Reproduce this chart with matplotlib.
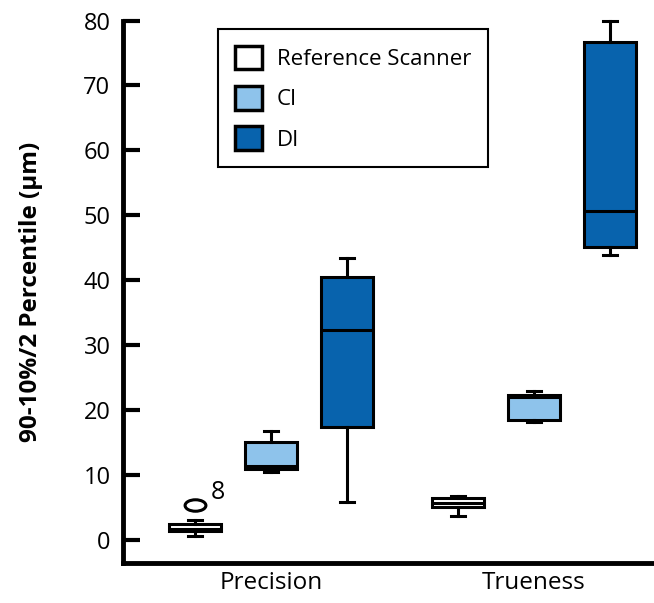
import matplotlib.pyplot as plt
from matplotlib.patches import Patch
from matplotlib.path import Path
from matplotlib.transforms import Affine2D

plt.rcParams['font.family'] = ['Open Sans', 'DejaVu Sans']

groups = ['Precision', 'Trueness']
series = ['Reference Scanner', 'CI', 'DI']
colors = ['white', '#8EC3EB', '#0863AD']

# whislo, q1, median, q3, whishi for each group
ref_stats = [[0.75, 1.5, 1.8, 2.55, 3.1], [3.8, 5.2, 5.7, 6.5, 6.9]]
ci_stats = [[10.5, 11.0, 11.5, 15.15, 16.9], [18.3, 18.6, 22.1, 22.45, 23.0]]
di_stats = [[5.9, 17.5, 32.4, 40.5, 43.4], [43.9, 45.1, 50.7, 76.7, 80.0]]
ref_outliers = [[5.4], []]
outlier_label = '8'

all_stats = [ref_stats, ci_stats, di_stats]
all_fliers = [ref_outliers, [[], []], [[], []]]

fig = plt.figure(figsize=(6.54, 6.03), dpi=100)
ax = fig.add_axes([0.188, 0.0663, 0.812, 0.8997])

oval = Path.unit_circle().transformed(Affine2D().scale(1.0, 0.55))

offsets = [-0.289, 0.0, 0.289]
for s, (stats, fliers, col) in enumerate(zip(all_stats, all_fliers, colors)):
    bs = []
    for g in range(len(groups)):
        lo, q1, med, q3, hi = stats[g]
        bs.append(dict(whislo=lo, q1=q1, med=med, q3=q3, whishi=hi, fliers=fliers[g]))
    pos = [g + 1 + offsets[s] for g in range(len(groups))]
    art = ax.bxp(bs, positions=pos, widths=0.198, capwidths=0.055, patch_artist=True,
                 manage_ticks=False,
                 boxprops=dict(facecolor=col, edgecolor='black', linewidth=2.2),
                 medianprops=dict(color='black', linewidth=2.2),
                 whiskerprops=dict(color='black', linewidth=2.2),
                 capprops=dict(color='black', linewidth=2.2),
                 flierprops=dict(marker=oval, markersize=15, markerfacecolor='none',
                                 markeredgecolor='black', markeredgewidth=2.2))
    for k in art:
        for a in art[k]:
            a.set_clip_on(False)

ax.text(1 + offsets[0] + 0.06, ref_outliers[0][0] + 2.0, outlier_label, fontsize=18,
        ha='left', va='center')

ax.set_xlim(0.437, 2.456)
ax.set_ylim(-3.47, 80)
ax.set_xticks([1, 2])
ax.set_xticklabels(groups, fontsize=17.5)
ax.tick_params(axis='x', length=0, pad=6)
ax.set_yticks(range(0, 81, 10))
ax.tick_params(axis='y', direction='in', length=12, width=3, labelsize=17, pad=9)
for sp in ['top', 'right']:
    ax.spines[sp].set_visible(False)
ax.spines['left'].set_linewidth(3.5)
ax.spines['bottom'].set_linewidth(3.5)
ax.set_ylabel('90-10%/2 Percentile (µm)', fontsize=17.5, fontweight='bold')
ax.yaxis.set_label_coords(-0.151, 0.5)

handles = [Patch(facecolor=c, edgecolor='black', linewidth=2.5) for c in colors]
leg = ax.legend(handles, series, loc='upper left', bbox_to_anchor=(0.179, 0.984),
                borderaxespad=0, fontsize=16, handlelength=1.25, handleheight=1.25,
                labelspacing=0.72, handletextpad=0.65, borderpad=0.75, fancybox=False,
                framealpha=1, edgecolor='black')
leg.get_frame().set_linewidth(1.5)

fig.savefig('out.png', dpi=100)
